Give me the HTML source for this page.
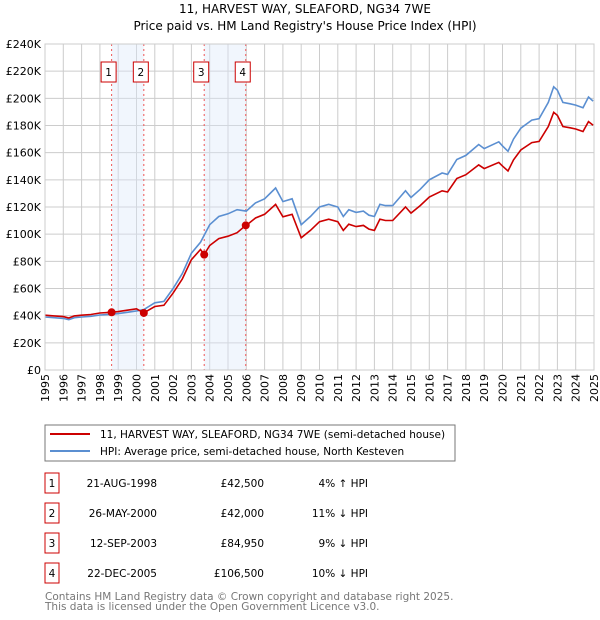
<!DOCTYPE html>
<html><head><meta charset="utf-8"><style>
body{margin:0;background:#fff;width:600px;height:620px;overflow:hidden;font-family:"DejaVu Sans","Liberation Sans",sans-serif;}
svg{display:block}
text{font-family:"DejaVu Sans","Liberation Sans",sans-serif;}
</style></head><body>
<svg id="chart" width="600" height="620" xmlns="http://www.w3.org/2000/svg">
<text x="305" y="13" text-anchor="middle" font-size="12">11, HARVEST WAY, SLEAFORD, NG34 7WE</text>
<text x="305" y="30" text-anchor="middle" font-size="12">Price paid vs. HM Land Registry's House Price Index (HPI)</text>
<g id="grid"></g><g id="bands"></g><g id="series"></g><g id="axes"></g>
<rect x="45" y="425" width="410" height="36" fill="#fff" stroke="#777"/>
<line x1="50" y1="434" x2="90" y2="434" stroke="#cc0000" stroke-width="2"/>
<text x="100" y="438" font-size="10.5">11, HARVEST WAY, SLEAFORD, NG34 7WE (semi-detached house)</text>
<line x1="50" y1="451" x2="90" y2="451" stroke="#5b8fd1" stroke-width="2"/>
<text x="100" y="455" font-size="10.5">HPI: Average price, semi-detached house, North Kesteven</text>
<g id="table" font-size="10.5"></g>
<text x="45" y="600" font-size="10.5" fill="#777">Contains HM Land Registry data © Crown copyright and database right 2025.</text>
<text x="45" y="610" font-size="10.5" fill="#777">This data is licensed under the Open Government Licence v3.0.</text>
</svg>
<script>
const hpiYears=[1995,1995.5,1996,1996.3,1996.6,1997,1997.5,1998,1998.6,1999,1999.5,2000,2000.4,2000.7,2001,2001.5,2002,2002.5,2003,2003.5,2004,2004.5,2005,2005.5,2006,2006.5,2007,2007.6,2008,2008.5,2009,2009.5,2010,2010.5,2011,2011.3,2011.6,2012,2012.4,2012.7,2013,2013.3,2013.6,2014,2014.7,2015,2015.5,2016,2016.7,2017,2017.5,2018,2018.7,2019,2019.8,2020,2020.3,2020.6,2021,2021.6,2022,2022.5,2022.8,2023,2023.3,2023.7,2024,2024.4,2024.7,2024.95];
const hpiValues=[39000,38500,38000,37000,38500,39000,39500,40500,41000,41500,42500,43500,44500,47000,49500,50500,60000,71000,86000,94000,107000,113000,115000,118000,117000,123000,126000,134000,124000,126000,107000,113000,120000,122000,120000,113000,118000,116000,117000,114000,113000,122000,121000,121000,132000,127000,133000,140000,145000,144000,155000,158000,166000,163000,168000,165000,161000,170000,178000,184000,185000,197000,208500,206000,197000,196000,195000,193000,201000,198000];
const saleLabels=["1","2","3","4"];
const saleDates=["21-AUG-1998","26-MAY-2000","12-SEP-2003","22-DEC-2005"];
const saleYears=[1998.64,2000.4,2003.7,2005.97];
const salePrices=[42500,42000,84950,106500];
const saleDiffs=["4% \u2191 HPI","11% \u2193 HPI","9% \u2193 HPI","10% \u2193 HPI"];
const yTicks=[0,20000,40000,60000,80000,100000,120000,140000,160000,180000,200000,220000,240000];
const xTicks=[1995,1996,1997,1998,1999,2000,2001,2002,2003,2004,2005,2006,2007,2008,2009,2010,2011,2012,2013,2014,2015,2016,2017,2018,2019,2020,2021,2022,2023,2024,2025];

const NS="http://www.w3.org/2000/svg";
const L=45,R=594,T=44,B=370;
const X=y=>L+(y-1995)/30*(R-L);
const Y=v=>B-v/240000*(B-T);
function mk(tag,attrs,parent){const e=document.createElementNS(NS,tag);for(const k in attrs)e.setAttribute(k,attrs[k]);parent.appendChild(e);return e;}
function hpiAt(t){if(t<=hpiYears[0])return hpiValues[0];for(let i=1;i<hpiYears.length;i++){if(t<=hpiYears[i]){const f=(t-hpiYears[i-1])/(hpiYears[i]-hpiYears[i-1]);return hpiValues[i-1]+f*(hpiValues[i]-hpiValues[i-1]);}}return hpiValues[hpiValues.length-1];}
const grid=document.getElementById('grid'),axes=document.getElementById('axes'),bands=document.getElementById('bands'),series=document.getElementById('series'),table=document.getElementById('table');
yTicks.forEach(v=>{
 const l=mk('line',{x1:L,x2:R,y1:Y(v),y2:Y(v),stroke:'#cccccc','stroke-width':1},grid);
 
 
 const t=mk('text',{x:L-4,y:Y(v)+4,'text-anchor':'end','font-size':'11'},axes);
 t.textContent=v===0?'£0':'£'+(v/1000)+'K';
 
 
});
xTicks.forEach(y=>{
 const l=mk('line',{x1:X(y),x2:X(y),y1:T,y2:B,stroke:'#cccccc','stroke-width':1},grid);
 
 
 const tx=X(y)+4,ty=B+4;
 const t=mk('text',{x:tx,y:ty,'text-anchor':'end','font-size':'11',transform:'rotate(-90 '+tx+' '+ty+')'},axes);
 t.textContent=y;
 
 
});
const bx=mk('rect',{x:L,y:T,width:R-L,height:B-T,fill:'none',stroke:'#cccccc'},axes);


for(let i=0;i<saleYears.length;i+=2){
 const b=mk('rect',{x:X(saleYears[i]),y:T,width:X(saleYears[i+1])-X(saleYears[i]),height:B-T,fill:'#dde8fb','fill-opacity':0.4},bands);
 
 
}
saleYears.forEach((s,i)=>{
 const l=mk('line',{x1:X(s),x2:X(s),y1:T,y2:B,stroke:'#ee5555','stroke-dasharray':'2,3','stroke-width':1},bands);
 
 
 const bw=mk('rect',{x:X(s)-10.5,y:62,width:15,height:20,fill:'#fff',stroke:'#cc0000'},bands);
 
 
 const t=mk('text',{x:X(s)-3,y:76,'text-anchor':'middle','font-size':'10.5'},bands);
 t.textContent=saleLabels[i];
 
 
});
let d='';hpiYears.forEach((y,i)=>{d+=(i?'L':'M')+X(y).toFixed(1)+','+Y(hpiValues[i]).toFixed(1);});
const hp=mk('path',{d:d,fill:'none',stroke:'#5b8fd1','stroke-width':1.6},series);


function segIdx(t){let k=0;for(let i=0;i<saleYears.length;i++)if(t>=saleYears[i])k=i;return k;}
const pts=[...hpiYears,...saleYears].sort((a,b)=>a-b);
let d2='';
pts.forEach((t,i)=>{const k=segIdx(t);const v=salePrices[k]*hpiAt(t)/hpiAt(saleYears[k]);d2+=(i?'L':'M')+X(t).toFixed(1)+','+Y(v).toFixed(1);});
const pp=mk('path',{d:d2,fill:'none',stroke:'#cc0000','stroke-width':1.6},series);


saleYears.forEach((s,i)=>{
 const c=mk('circle',{cx:X(s),cy:Y(salePrices[i]),r:4,fill:'#cc0000'},series);
 
 
});
const rowY=[483,513,543,573];
saleLabels.forEach((lab,i)=>{
 const y=rowY[i];
 const b=mk('rect',{x:45,y:y-10,width:14,height:20,fill:'#fff',stroke:'#cc0000'},table);
 
 
 const t0=mk('text',{x:52,y:y+4,'text-anchor':'middle'},table);t0.textContent=lab;
 
 
 const t1=mk('text',{x:157,y:y+4,'text-anchor':'end'},table);t1.textContent=saleDates[i];
 
 
 const t2=mk('text',{x:264,y:y+4,'text-anchor':'end'},table);t2.textContent='£'+salePrices[i].toLocaleString('en-GB');
 
 
 const t3=mk('text',{x:368,y:y+4,'text-anchor':'end'},table);t3.textContent=saleDiffs[i];
 
 
});
</script>
</body></html>
